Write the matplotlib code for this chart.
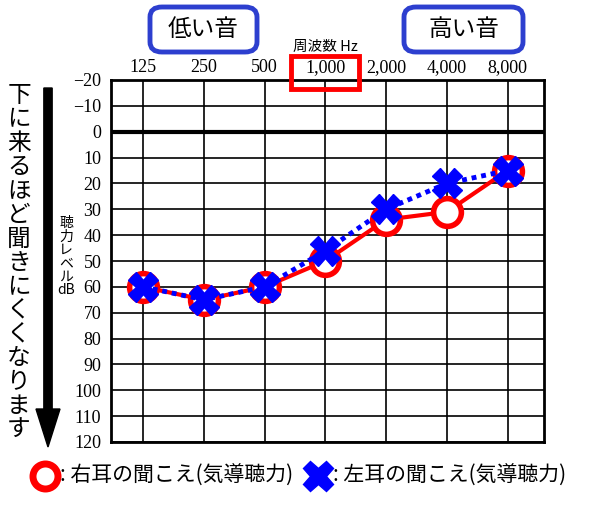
import numpy as np
import matplotlib
matplotlib.use("Agg")
import matplotlib.pyplot as plt
from matplotlib.patches import FancyBboxPatch, Rectangle, FancyArrow
from matplotlib.lines import Line2D

plt.rcParams['font.family'] = ['Noto Sans CJK JP', 'DejaVu Sans']

# 周波数 (Hz)
freq_labels = ["125", "250", "500", "1,000", "2,000", "4,000", "8,000"]
# 聴力レベル (dB)
right_ear = [60, 65, 60, 50, 34, 31, 15]
left_ear = [60, 65, 60, 46, 30, 20, 15]
y_ticks = [-20, -10, 0, 10, 20, 30, 40, 50, 60, 70, 80, 90, 100, 110, 120]

W, H = 600, 505


def fx(x):
    return x / W


def fy(y):
    return 1 - y / H


fig = plt.figure(figsize=(6, 5.05), dpi=100)
ax = fig.add_axes([fx(111), fy(442), fx(544) - fx(111), fy(80) - fy(442)])

x = np.arange(len(freq_labels))
ax.set_xlim(-0.53, 6.6)
ax.set_ylim(120, -20)

# グリッド
for xi in x:
    ax.axvline(xi, color="black", lw=1.2, zorder=1)
for yv in y_ticks:
    ax.axhline(yv, color="black", lw=3 if yv == 0 else 1.2, zorder=1)

ax.set_xticks(x)
ax.set_xticklabels(freq_labels, family="Liberation Serif", fontsize=13)
ax.xaxis.tick_top()
ax.set_yticks(y_ticks)
ax.set_yticklabels([f"−{-v}" if v < 0 else str(v) for v in y_ticks],
                   family="Liberation Serif", fontsize=13)
ax.tick_params(axis="y", length=0, pad=7)
ax.tick_params(axis="x", length=0, pad=3)
for s in ax.spines.values():
    s.set_linewidth(2)

ax.plot(x, right_ear, color="red", lw=3, marker="o", ms=20,
        mfc="white", mec="red", mew=4, zorder=3)
ax.plot(x, left_ear, color="blue", lw=3.5, ls=(0, (1, 1)), zorder=4)
ax.plot(x, left_ear, ls="none", marker="X", ms=21, color="blue",
        mec="blue", zorder=5)

# 上の見出し
for (x0, x1, label) in [(150, 257, "低い音"), (404, 523, "高い音")]:
    box = FancyBboxPatch((fx(x0), fy(52)), fx(x1) - fx(x0), fy(7) - fy(52),
                         boxstyle="round,pad=0,rounding_size=0.02",
                         transform=fig.transFigure, fc="white",
                         ec="#2d3fcf", lw=3.5)
    fig.patches.append(box)
    fig.text(fx((x0 + x1) / 2), fy(30), label, ha="center", va="center",
             fontsize=17)

fig.text(fx(325), fy(47), "周波数 Hz", ha="center", va="center",
         fontsize=10.5, family=["Noto Sans CJK JP", "Liberation Serif"])
fig.patches.append(Rectangle((fx(291), fy(89)), fx(359) - fx(291),
                             fy(56) - fy(89), transform=fig.transFigure,
                             fill=False, ec="red", lw=3.5))

# 左側の矢印と説明
fig.patches.append(FancyArrow(fx(48), fy(88), 0, fy(447) - fy(88),
                              width=7 / H, head_width=24 / W,
                              head_length=38 / H, length_includes_head=True,
                              transform=fig.transFigure, color="black"))
msg = "下に来るほど聞きにくくなります"
for i, ch in enumerate(msg):
    fig.text(fx(19), fy(96 + i * 23.9), ch, ha="center", va="center",
             fontsize=17)

ylab = ["聴", "力", "レ", "ベ", "ル", "dB"]
for i, ch in enumerate(ylab):
    fig.text(fx(66), fy(223 + i * 13.5), ch, ha="center", va="center",
             fontsize=10, family=["Noto Sans CJK JP", "Liberation Serif"])

# 凡例
fig.add_artist(Line2D([fx(45)], [fy(476)], marker="o", ms=18, mfc="white",
                      mec="red", mew=5, transform=fig.transFigure))
fig.text(fx(60), fy(476), ": 右耳の聞こえ(気導聴力)", ha="left",
         va="center", fontsize=15)
fig.add_artist(Line2D([fx(318)], [fy(476)], marker="X", ms=22, color="blue",
                      transform=fig.transFigure))
fig.text(fx(333), fy(476), ": 左耳の聞こえ(気導聴力)", ha="left",
         va="center", fontsize=15)

fig.savefig("out.png", dpi=100, facecolor="white")
